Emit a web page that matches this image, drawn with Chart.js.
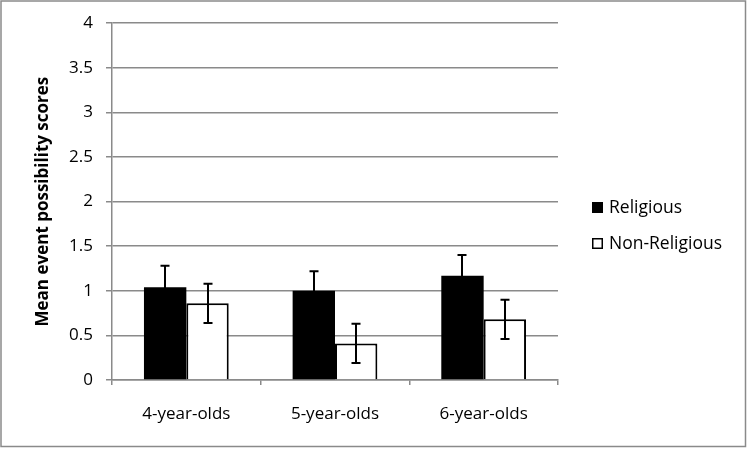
<!DOCTYPE html>
<html>
<head>
<meta charset="utf-8">
<script src="https://cdn.jsdelivr.net/npm/chart.js@4/dist/chart.umd.min.js"></script>
<style>
  html, body { margin: 0; padding: 0; background: #fff; }
  #wrap { width: 747px; height: 449px; position: relative; }
</style>
</head>
<body>
<div id="wrap"><canvas id="c" width="747" height="449"></canvas></div>
<script>
const categories = ["4-year-olds", "5-year-olds", "6-year-olds"];
const religious = [1.04, 1.00, 1.17];
const religiousErr = [0.24, 0.22, 0.23];
const nonReligious = [0.86, 0.41, 0.68];
const nonReligiousErr = [0.22, 0.22, 0.22];
const seriesLabels = ["Religious", "Non-Religious"];
const yTitle = "Mean event possibility scores";

const FONT = "'Open Sans', 'Noto Sans', sans-serif";
const GRID = "#8a8a8a";

const errorBars = {
  id: 'errorBars',
  afterDatasetsDraw(chart) {
    const ctx = chart.ctx;
    const y = chart.scales.y;
    const errs = [religiousErr, nonReligiousErr];
    ctx.save();
    ctx.strokeStyle = '#000';
    ctx.lineWidth = 2;
    chart.data.datasets.forEach((ds, di) => {
      const meta = chart.getDatasetMeta(di);
      meta.data.forEach((bar, i) => {
        const v = ds.data[i], e = errs[di][i];
        const x = Math.round(bar.x);
        const yt = y.getPixelForValue(v + e);
        const yb = y.getPixelForValue(v - e);
        ctx.beginPath();
        ctx.moveTo(x, yt); ctx.lineTo(x, yb);
        ctx.moveTo(x - 4.5, yt); ctx.lineTo(x + 4.5, yt);
        ctx.moveTo(x - 4.5, yb); ctx.lineTo(x + 4.5, yb);
        ctx.stroke();
      });
    });
    ctx.restore();
  }
};

const customLegend = {
  id: 'customLegend',
  afterDraw(chart) {
    const ctx = chart.ctx;
    ctx.save();
    ctx.strokeStyle = GRID;
    ctx.lineWidth = 1.5;
    ctx.strokeRect(1, 1, 744.5, 445.5);
    const items = chart.data.datasets;
    const ys = [208, 244];
    ctx.font = "17.5px " + FONT;
    ctx.textBaseline = 'middle';
    ctx.textAlign = 'left';
    items.forEach((ds, i) => {
      const cy = ys[i];
      ctx.fillStyle = ds.backgroundColor;
      ctx.fillRect(592, cy - 6, 11, 11);
      ctx.strokeStyle = '#000';
      ctx.lineWidth = 1.5;
      ctx.strokeRect(592.75, cy - 5.25, 9.5, 9.5);
      ctx.fillStyle = '#000';
      ctx.fillText(ds.label, 609, cy);
    });
    ctx.restore();
  }
};

new Chart(document.getElementById('c'), {
  type: 'bar',
  data: {
    labels: categories,
    datasets: [
      { label: seriesLabels[0], data: religious, backgroundColor: '#000000', borderColor: '#000000', borderWidth: 0 },
      { label: seriesLabels[1], data: nonReligious, backgroundColor: '#ffffff', borderColor: '#000000', borderWidth: 2 }
    ]
  },
  options: {
    responsive: false,
    animation: false,
    devicePixelRatio: 1,
    layout: { padding: { left: 0, top: 23, right: 189, bottom: 0 } },
    datasets: { bar: { categoryPercentage: 0.57, barPercentage: 1.0 } },
    plugins: { legend: { display: false }, tooltip: { enabled: false } },
    scales: {
      x: {
        grid: { display: true, drawOnChartArea: false, drawTicks: true, tickLength: 5, color: GRID, lineWidth: 1.5, offset: true },
        border: { display: true, color: GRID, width: 1.5 },
        ticks: { color: '#000', font: { family: FONT, size: 17 }, padding: 19 },
        afterFit(s) { s.height = 69; }
      },
      y: {
        min: 0, max: 4,
        ticks: { stepSize: 0.5, color: '#000', font: { family: FONT, size: 17 }, padding: 13,
                 callback: (v) => String(Number(v)) },
        grid: { color: GRID, lineWidth: 1.5, tickLength: 6 },
        border: { display: true, color: GRID, width: 1.5 },
        title: { display: true, text: yTitle, color: '#000', font: { family: FONT, size: 17, weight: 'bold' }, padding: { top: 33, bottom: 0 } },
        afterFit(s) { s.width = 112; }
      }
    }
  },
  plugins: [errorBars, customLegend]
});
</script>
</body>
</html>
